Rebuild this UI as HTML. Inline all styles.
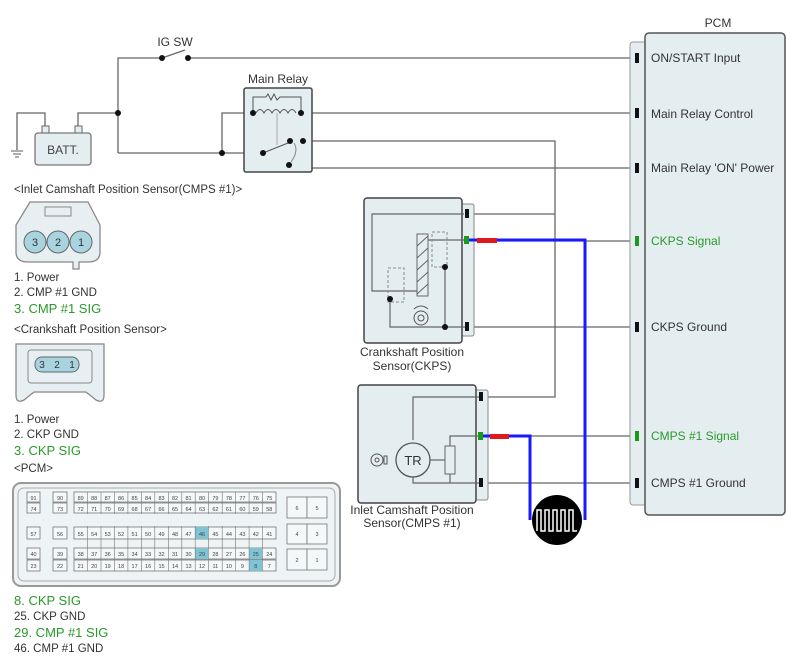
<!DOCTYPE html>
<html><head><meta charset="utf-8"><style>
html,body{margin:0;padding:0;background:#fff}
svg{display:block}
text{font-family:"Liberation Sans",Arial,sans-serif}
</style></head><body>
<svg width="800" height="664" viewBox="0 0 800 664" xmlns="http://www.w3.org/2000/svg">
<g fill="none" stroke="#666" stroke-width="1.3">
<!-- IG SW line -->
<polyline points="118,153 118,58 162,58"/>
<line x1="162" y1="58" x2="185" y2="50"/>
<line x1="188" y1="58" x2="637" y2="58"/>
<!-- battery -->
<polyline points="17,150 17,113 45,113 45,127"/>
<polyline points="78,127 78,113 118,113"/>
<line x1="118" y1="153" x2="263" y2="153"/>
<polyline points="222,153 222,113 253,113"/>
<!-- relay outputs -->
<line x1="301" y1="113" x2="637" y2="113"/>
<polyline points="303,141 555,141 555,397 481,397"/>
<line x1="555" y1="214" x2="467" y2="214"/>
<polyline points="303,141 306,141 306,168 637,168"/>
<!-- sensor grey wires -->
<line x1="497" y1="241" x2="637" y2="241"/>
<line x1="467" y1="327" x2="637" y2="327"/>
<line x1="530" y1="436" x2="637" y2="436"/>
<line x1="481" y1="483" x2="637" y2="483"/>
</g>
<!-- ground symbol -->
<g stroke="#777" stroke-width="1.2"><line x1="11" y1="151" x2="23" y2="151"/><line x1="13" y1="154" x2="21" y2="154"/><line x1="15" y1="157" x2="19" y2="157"/></g>
<!-- battery box -->
<rect x="42" y="126" width="7" height="7" fill="#e4eef1" stroke="#666"/>
<rect x="75" y="126" width="7" height="7" fill="#e4eef1" stroke="#666"/>
<rect x="35" y="133" width="56" height="32" rx="3" fill="#e4eef1" stroke="#777" stroke-width="1.3"/>
<text x="63" y="154" font-size="12" text-anchor="middle" fill="#444">BATT.</text>
<!-- dots -->
<g fill="#111">
<circle cx="118" cy="113" r="3"/><circle cx="222" cy="153" r="3"/>
<circle cx="162" cy="58" r="3"/><circle cx="188" cy="58" r="3"/>
</g>
<text x="175" y="46" font-size="12" text-anchor="middle" fill="#333">IG SW</text>
<!-- main relay -->
<text x="278" y="83" font-size="12" text-anchor="middle" fill="#333">Main Relay</text>
<rect x="244" y="88" width="68" height="84" rx="2" fill="#e4eef1" stroke="#444" stroke-width="1.5"/>
<g fill="none" stroke="#555" stroke-width="1">
<polyline points="253,113 253,97 266,97 268,94 271,100 274,94 277,100 280,97 301,97 301,113"/>
<path d="M256,113 q4,-7 8,0 q4,-7 8,0 q4,-7 8,0 q4,-7 8,0 q4,-7 8,0"/>
<line x1="277" y1="113" x2="277" y2="145" stroke="#aaa"/>
<line x1="263" y1="153" x2="288" y2="143"/>
<path d="M294,143 q5,8 -3,19" stroke="#888"/>
</g>
<g fill="#111"><circle cx="253" cy="113" r="3"/><circle cx="301" cy="113" r="3"/><circle cx="263" cy="153" r="3"/><circle cx="290" cy="141" r="3"/><circle cx="303" cy="141" r="3"/><circle cx="289" cy="165" r="3"/></g>

<!-- CKPS -->
<rect x="461" y="204" width="13" height="132" rx="2" fill="#e4eef1" stroke="#888"/>
<rect x="364" y="198" width="98" height="145" rx="3" fill="#e4eef1" stroke="#444" stroke-width="1.5"/>
<g fill="none" stroke="#666" stroke-width="1.2">
<polyline points="464,214 372,214 372,291 417,291"/>
<line x1="428" y1="240" x2="466" y2="240"/>
<polyline points="445,267 445,327 466,327"/>
<polyline points="390,299 390,327 445,327"/>
</g>
<rect x="417" y="234" width="11" height="62" fill="#e4eef1" stroke="#666"/>
<path d="M417,246 L428,236 M417,258 L428,248 M417,270 L428,260 M417,282 L428,272 M417,294 L428,284" stroke="#666" fill="none"/>
<rect x="432" y="232" width="15" height="35" fill="none" stroke="#888" stroke-dasharray="3,2"/>
<rect x="388" y="268" width="16" height="34" fill="none" stroke="#888" stroke-dasharray="3,2"/>
<circle cx="421" cy="318" r="7" fill="#e4eef1" stroke="#555"/><circle cx="421" cy="318" r="3" fill="none" stroke="#555"/>
<path d="M414,309 q7,-6 14,0" fill="none" stroke="#555"/>
<g fill="#111"><circle cx="445" cy="267" r="3"/><circle cx="390" cy="299" r="3"/><circle cx="445" cy="327" r="3"/></g>
<rect x="465" y="209" width="4" height="9" fill="#111"/><rect x="465" y="322" width="4" height="9" fill="#111"/>
<text x="412" y="356" font-size="12" text-anchor="middle" fill="#333">Crankshaft Position</text>
<text x="412" y="370" font-size="12" text-anchor="middle" fill="#333">Sensor(CKPS)</text>

<!-- CMPS -->
<rect x="475" y="390" width="13" height="110" rx="2" fill="#e4eef1" stroke="#888"/>
<rect x="358" y="385" width="118" height="118" rx="3" fill="#e4eef1" stroke="#444" stroke-width="1.5"/>
<g fill="none" stroke="#666" stroke-width="1.2">
<polyline points="479,397 413,397 413,440"/>
<polyline points="413,474 413,483 479,483"/>
<polyline points="479,436 450,436 450,483"/>
<line x1="430" y1="460" x2="445" y2="460"/>
</g>
<rect x="445" y="446" width="10" height="28" fill="#e4eef1" stroke="#666"/>
<circle cx="413" cy="460" r="17" fill="#e4eef1" stroke="#555" stroke-width="1.3"/>
<text x="413" y="465" font-size="13" text-anchor="middle" fill="#333">TR</text>
<circle cx="377" cy="460" r="6" fill="#e4eef1" stroke="#555"/><circle cx="377" cy="460" r="2" fill="none" stroke="#555"/>
<rect x="384" y="456" width="3" height="8" fill="none" stroke="#555"/>
<rect x="479" y="392" width="4" height="9" fill="#111"/><rect x="479" y="478" width="4" height="9" fill="#111"/>
<text x="412" y="514" font-size="12" text-anchor="middle" fill="#333">Inlet Camshaft Position</text>
<text x="412" y="527" font-size="12" text-anchor="middle" fill="#333">Sensor(CMPS #1)</text>

<!-- signal wires -->
<polyline points="468,240 585,240 585,520" fill="none" stroke="#1a1aff" stroke-width="3"/>
<polyline points="482,436 530,436 530,520" fill="none" stroke="#1a1aff" stroke-width="3"/>
<rect x="477" y="238" width="20" height="5" fill="#e01a1a"/>
<rect x="490" y="434" width="19" height="5" fill="#e01a1a"/>
<rect x="464" y="236" width="5" height="8" fill="#1a9a1a"/>
<rect x="478" y="432" width="5" height="8" fill="#1a9a1a"/>
<circle cx="557" cy="520" r="25" fill="#000"/>
<polyline points="537,531 537,510 541,510 541,531 545,531 545,510 549,510 549,531 553,531 553,510 557,510 557,531 561,531 561,510 565,510 565,531 569,531 569,510 573,510 573,531 577,531" fill="none" stroke="#fff" stroke-width="1.5"/>

<!-- PCM -->
<text x="718" y="27" font-size="12" text-anchor="middle" fill="#333">PCM</text>
<rect x="630" y="42" width="20" height="463" rx="3" fill="#e4eef1" stroke="#999"/>
<rect x="645" y="33" width="140" height="482" rx="4" fill="#e4eef1" stroke="#555" stroke-width="1.5"/>
<g fill="#111"><rect x="635" y="53" width="4" height="10"/><rect x="635" y="108" width="4" height="10"/><rect x="635" y="163" width="4" height="10"/><rect x="635" y="322" width="4" height="10"/><rect x="635" y="478" width="4" height="10"/></g>
<g fill="#1a9a1a"><rect x="635" y="236" width="4" height="10"/><rect x="635" y="431" width="4" height="10"/></g>
<g font-size="12" fill="#333">
<text x="651" y="62">ON/START Input</text>
<text x="651" y="118">Main Relay Control</text>
<text x="651" y="172">Main Relay 'ON' Power</text>
<text x="651" y="245" fill="#2a9a2a">CKPS Signal</text>
<text x="651" y="331">CKPS Ground</text>
<text x="651" y="440" fill="#2a9a2a">CMPS #1 Signal</text>
<text x="651" y="487">CMPS #1 Ground</text>
</g>

<!-- left: CMPS connector -->
<g font-size="11.5" fill="#333">
<text x="14" y="193">&lt;Inlet Camshaft Position Sensor(CMPS #1)&gt;</text>
<text x="14" y="281">1. Power</text>
<text x="14" y="296">2. CMP #1 GND</text>
<text x="14" y="313" fill="#2a9a2a" font-size="13">3. CMP #1 SIG</text>
<text x="14" y="333">&lt;Crankshaft Position Sensor&gt;</text>
<text x="14" y="423">1. Power</text>
<text x="14" y="438">2. CKP GND</text>
<text x="14" y="455" fill="#2a9a2a" font-size="13">3. CKP SIG</text>
<text x="14" y="472">&lt;PCM&gt;</text>
<text x="14" y="605" fill="#2a9a2a" font-size="13">8. CKP SIG</text>
<text x="14" y="620">25. CKP GND</text>
<text x="14" y="637" fill="#2a9a2a" font-size="13">29. CMP #1 SIG</text>
<text x="14" y="652">46. CMP #1 GND</text>
</g>
<path d="M30,202 L88,202 L100,225 L100,252 Q100,262 88,262 L79,262 L79,269 L73,269 L73,262 L28,262 Q16,262 16,252 L16,225 Z" fill="#e8eff2" stroke="#888" stroke-width="1.3"/>
<rect x="45" y="207" width="26" height="9" fill="#e8eff2" stroke="#888"/>
<g fill="#a8d4e0" stroke="#666"><circle cx="35" cy="242" r="11"/><circle cx="58" cy="242" r="11"/><circle cx="81" cy="242" r="11"/></g>
<g font-size="11" fill="#333" text-anchor="middle"><text x="35" y="246">3</text><text x="58" y="246">2</text><text x="81" y="246">1</text></g>
<!-- CKP connector -->
<path d="M16,344 L104,344 L104,395 Q104,404 96,400 L86,392 L34,392 L24,400 Q16,404 16,395 Z" fill="#e8eff2" stroke="#888" stroke-width="1.3"/>
<rect x="28" y="350" width="64" height="33" rx="3" fill="#e8eff2" stroke="#888"/>
<rect x="35" y="357" width="44" height="15" rx="7" fill="#a8d4e0" stroke="#666"/>
<g font-size="10" fill="#333" text-anchor="middle"><text x="42" y="368">3</text><text x="57" y="368">2</text><text x="72" y="368">1</text></g>

<!-- PCM connector -->
<rect x="13" y="483" width="327" height="103" rx="8" fill="#eef3f5" stroke="#999" stroke-width="2"/>
<rect x="18" y="488" width="317" height="93" rx="6" fill="none" stroke="#aaa"/>
<g fill="#f4f8f9" stroke="#777" stroke-width="0.8">
<rect x="27" y="492" width="13" height="10"/><rect x="27" y="503" width="13" height="10"/>
<rect x="53" y="492" width="14" height="10"/><rect x="53" y="503" width="14" height="10"/>
<rect x="27" y="527" width="13" height="12"/><rect x="53" y="527" width="14" height="12"/>
<rect x="27" y="548" width="13" height="11"/><rect x="27" y="560" width="13" height="11"/>
<rect x="53" y="548" width="14" height="11"/><rect x="53" y="560" width="14" height="11"/>
<rect x="74" y="492" width="202" height="10"/><rect x="74" y="503" width="202" height="10"/>
<rect x="74" y="527" width="202" height="12"/>
<rect x="74" y="548" width="202" height="11"/><rect x="74" y="560" width="202" height="11"/>
<rect x="287" y="497" width="20" height="21"/><rect x="307" y="497" width="20" height="21"/>
<rect x="287" y="524" width="20" height="20"/><rect x="307" y="524" width="20" height="20"/>
<rect x="287" y="549" width="20" height="21"/><rect x="307" y="549" width="20" height="21"/>
</g>
<g fill="#7fc4d4"><rect x="195" y="527" width="13" height="12"/><rect x="195" y="548" width="13" height="11"/><rect x="249" y="548" width="13" height="11"/><rect x="249" y="560" width="13" height="11"/></g>
<g stroke="#777" stroke-width="0.6">
<path d="M87.5,492V571M101,492V571M114.4,492V571M127.9,492V571M141.4,492V571M154.8,492V571M168.3,492V571M181.8,492V571M195.2,492V571M208.7,492V571M222.2,492V571M235.6,492V571M249.1,492V571M262.6,492V571"/>
</g>
<rect x="74" y="514" width="202" height="12" fill="#eef3f5"/>
<g font-size="5.5" fill="#444" text-anchor="middle">
<text x="33.5" y="500">91</text><text x="60" y="500">90</text><text x="33.5" y="511">74</text><text x="60" y="511">73</text>
<text x="33.5" y="536">57</text><text x="60" y="536">56</text>
<text x="33.5" y="556">40</text><text x="60" y="556">39</text><text x="33.5" y="568">23</text><text x="60" y="568">22</text>
<text x="297" y="510">6</text><text x="317" y="510">5</text><text x="297" y="536">4</text><text x="317" y="536">3</text><text x="297" y="562">2</text><text x="317" y="562">1</text>
<text y="500"><tspan x="80.7">89</tspan><tspan x="94.2">88</tspan><tspan x="107.7">87</tspan><tspan x="121.1">86</tspan><tspan x="134.6">85</tspan><tspan x="148.1">84</tspan><tspan x="161.5">83</tspan><tspan x="175">82</tspan><tspan x="188.5">81</tspan><tspan x="202">80</tspan><tspan x="215.4">79</tspan><tspan x="228.9">78</tspan><tspan x="242.4">77</tspan><tspan x="255.8">76</tspan><tspan x="269.3">75</tspan></text>
<text y="511"><tspan x="80.7">72</tspan><tspan x="94.2">71</tspan><tspan x="107.7">70</tspan><tspan x="121.1">69</tspan><tspan x="134.6">68</tspan><tspan x="148.1">67</tspan><tspan x="161.5">66</tspan><tspan x="175">65</tspan><tspan x="188.5">64</tspan><tspan x="202">63</tspan><tspan x="215.4">62</tspan><tspan x="228.9">61</tspan><tspan x="242.4">60</tspan><tspan x="255.8">59</tspan><tspan x="269.3">58</tspan></text>
<text y="536"><tspan x="80.7">55</tspan><tspan x="94.2">54</tspan><tspan x="107.7">53</tspan><tspan x="121.1">52</tspan><tspan x="134.6">51</tspan><tspan x="148.1">50</tspan><tspan x="161.5">49</tspan><tspan x="175">48</tspan><tspan x="188.5">47</tspan><tspan x="202">46</tspan><tspan x="215.4">45</tspan><tspan x="228.9">44</tspan><tspan x="242.4">43</tspan><tspan x="255.8">42</tspan><tspan x="269.3">41</tspan></text>
<text y="556"><tspan x="80.7">38</tspan><tspan x="94.2">37</tspan><tspan x="107.7">36</tspan><tspan x="121.1">35</tspan><tspan x="134.6">34</tspan><tspan x="148.1">33</tspan><tspan x="161.5">32</tspan><tspan x="175">31</tspan><tspan x="188.5">30</tspan><tspan x="202">29</tspan><tspan x="215.4">28</tspan><tspan x="228.9">27</tspan><tspan x="242.4">26</tspan><tspan x="255.8">25</tspan><tspan x="269.3">24</tspan></text>
<text y="568"><tspan x="80.7">21</tspan><tspan x="94.2">20</tspan><tspan x="107.7">19</tspan><tspan x="121.1">18</tspan><tspan x="134.6">17</tspan><tspan x="148.1">16</tspan><tspan x="161.5">15</tspan><tspan x="175">14</tspan><tspan x="188.5">13</tspan><tspan x="202">12</tspan><tspan x="215.4">11</tspan><tspan x="228.9">10</tspan><tspan x="242.4">9</tspan><tspan x="255.8">8</tspan><tspan x="269.3">7</tspan></text>
</g>
</svg>
</body></html>
